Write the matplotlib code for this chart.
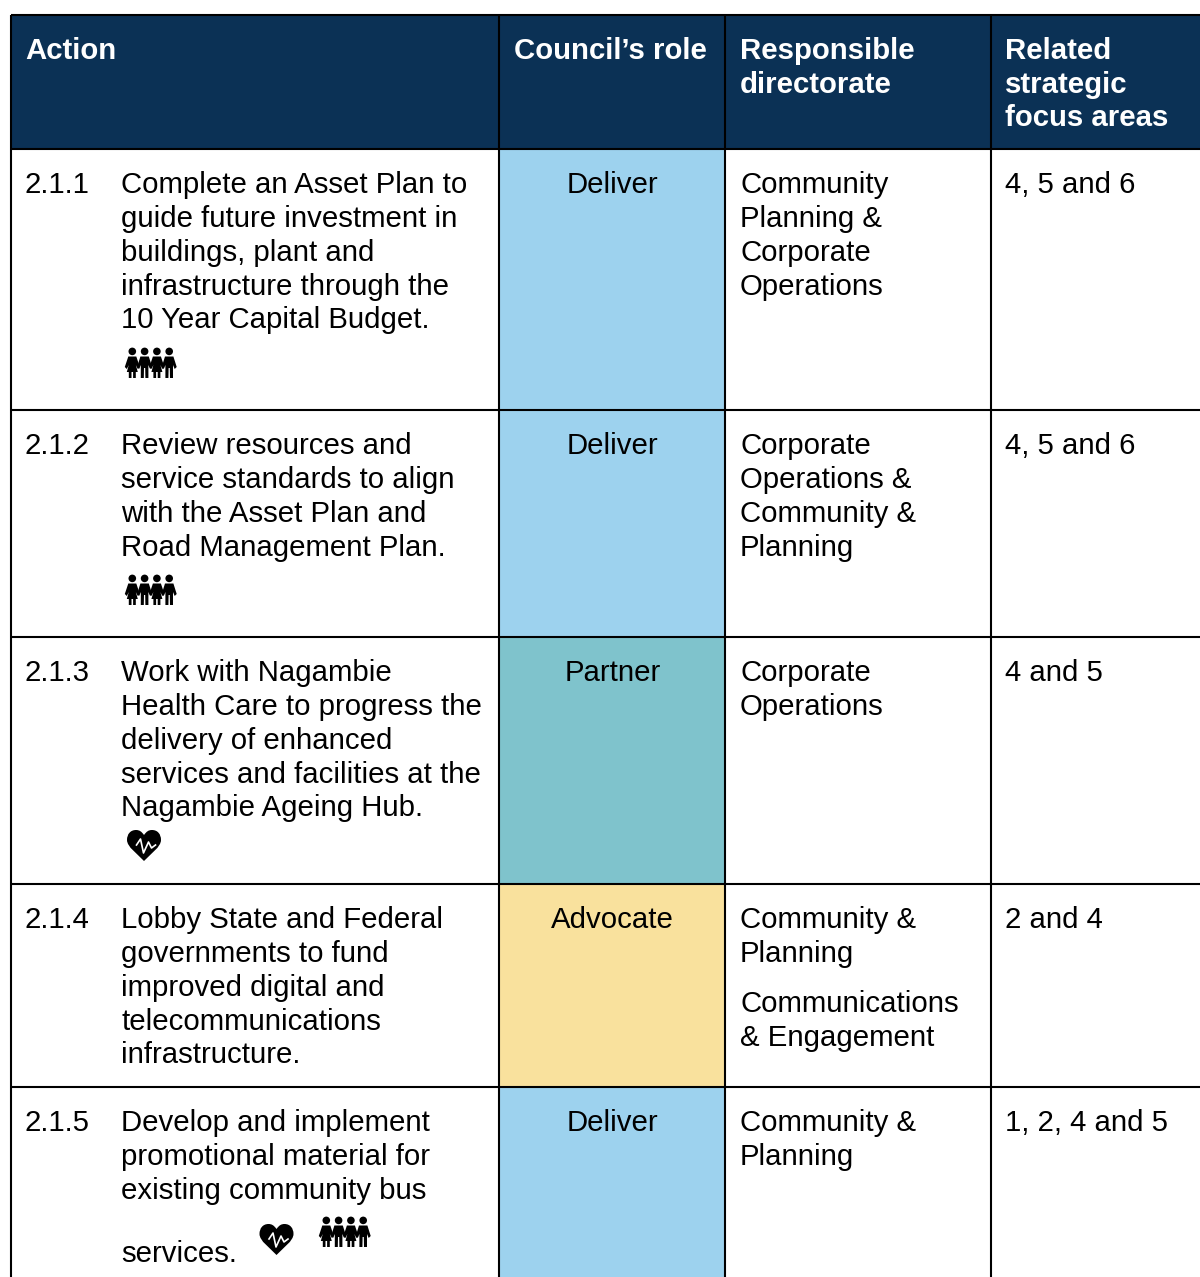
import matplotlib
matplotlib.use('Agg')
import matplotlib.pyplot as plt
from matplotlib.patches import Rectangle, Circle, Polygon, PathPatch
from matplotlib.path import Path

plt.rcParams['font.family'] = ['Liberation Sans', 'DejaVu Sans']

headers = ["Action", "Council\u2019s role", "Responsible\ndirectorate", "Related\nstrategic\nfocus areas"]
numbers = ["2.1.1", "2.1.2", "2.1.3", "2.1.4", "2.1.5"]
actions = [
    ["Complete an Asset Plan to", "guide future investment in", "buildings, plant and", "infrastructure through the", "10 Year Capital Budget."],
    ["Review resources and", "service standards to align", "with the Asset Plan and", "Road Management Plan."],
    ["Work with Nagambie", "Health Care to progress the", "delivery of enhanced", "services and facilities at the", "Nagambie Ageing Hub."],
    ["Lobby State and Federal", "governments to fund", "improved digital and", "telecommunications", "infrastructure."],
    ["Develop and implement", "promotional material for", "existing community bus"],
]
roles = ["Deliver", "Deliver", "Partner", "Advocate", "Deliver"]
directorates = [
    ["Community", "Planning &", "Corporate", "Operations"],
    ["Corporate", "Operations &", "Community &", "Planning"],
    ["Corporate", "Operations"],
    ["Community &", "Planning"],
    ["Community &", "Planning"],
]
focus = ["4, 5 and 6", "4, 5 and 6", "4 and 5", "2 and 4", "1, 2, 4 and 5"]
role_colors = {"Deliver": "#9dd2ee", "Partner": "#7fc3cc", "Advocate": "#f9e19d"}

col_x = [11, 499, 725, 991, 1201]
row_y = [15, 149, 410, 637, 884, 1087, 1278]
navy = "#0b3155"
line_h = 33.75
fs = 21.2

fig = plt.figure(figsize=(12, 12.77), dpi=100)
ax = fig.add_axes([0, 0, 1, 1])
ax.set_xlim(0, 1200)
ax.set_ylim(1277, 0)
ax.axis('off')


def people(x, y):
    # four figures holding hands, x,y = top left of the group
    for i in range(4):
        cx = x + 7.3 + i * 12.3
        ax.add_patch(Circle((cx, y + 3.4), 3.8, color='black', lw=0))
        if i % 2 == 0:
            body = [(cx - 4, y + 8.5), (cx + 4, y + 8.5), (cx + 7.5, y + 19), (cx + 5.5, y + 21), (cx + 3.5, y + 17),
                    (cx + 5.5, y + 24), (cx + 3.5, y + 24), (cx + 3.5, y + 30), (cx + 0.8, y + 30), (cx + 0.8, y + 24),
                    (cx - 0.8, y + 24), (cx - 0.8, y + 30), (cx - 3.5, y + 30), (cx - 3.5, y + 24), (cx - 5.5, y + 24),
                    (cx - 3.5, y + 17), (cx - 5.5, y + 21), (cx - 7.5, y + 19)]
        else:
            body = [(cx - 4.2, y + 8.5), (cx + 4.2, y + 8.5), (cx + 7.5, y + 19), (cx + 5.5, y + 21), (cx + 3.8, y + 17),
                    (cx + 3.8, y + 30), (cx + 0.8, y + 30), (cx + 0.6, y + 20), (cx - 0.6, y + 20), (cx - 0.8, y + 30),
                    (cx - 3.8, y + 30), (cx - 3.8, y + 17), (cx - 5.5, y + 21), (cx - 7.5, y + 19)]
        ax.add_patch(Polygon(body, closed=True, color='black', lw=0))


def heart(x, y):
    # heart with white pulse line, x,y = top left, about 33 wide, 31 tall
    verts = [(x + 16.5, y + 5),
             (x + 14, y + 1.5), (x + 12, y), (x + 8.5, y),
             (x + 3, y), (x - 0.5, y + 4), (x - 0.5, y + 10),
             (x - 0.5, y + 17), (x + 10, y + 24), (x + 16.5, y + 31),
             (x + 23, y + 24), (x + 33.5, y + 17), (x + 33.5, y + 10),
             (x + 33.5, y + 4), (x + 30, y), (x + 24.5, y),
             (x + 21, y), (x + 19, y + 1.5), (x + 16.5, y + 5)]
    codes = [Path.MOVETO] + [Path.CURVE4] * 18
    ax.add_patch(PathPatch(Path(verts, codes), color='black', lw=0))
    pulse = [(x + 9, y + 15), (x + 13, y + 9), (x + 16, y + 23),
             (x + 21, y + 12), (x + 24, y + 18), (x + 28, y + 15)]
    ax.plot(*zip(*pulse), color='white', lw=1.2, solid_joinstyle='round')


# header band
ax.add_patch(Rectangle((col_x[0], row_y[0]), col_x[-1] - col_x[0], row_y[1] - row_y[0], color=navy, lw=0))

# role column fills
for i, role in enumerate(roles):
    ax.add_patch(Rectangle((col_x[1], row_y[i + 1]), col_x[2] - col_x[1], row_y[i + 2] - row_y[i + 1],
                           color=role_colors[role], lw=0))

# grid lines
for x in col_x[:-1]:
    ax.plot([x, x], [row_y[0], row_y[-1]], color='black', lw=1.5, solid_capstyle='butt')
for y in row_y[:-1]:
    ax.plot([col_x[0], col_x[-1]], [y, y], color='black', lw=1.5, solid_capstyle='butt')

# header text
hdr_x = [25, 514, 740, 1005]
for x, h in zip(hdr_x, headers):
    for k, part in enumerate(h.split("\n")):
        ax.text(x, 59 + k * line_h, part, color='white', fontsize=fs, fontweight='bold', va='baseline')


def lines(x, y, items):
    for k, s in enumerate(items):
        ax.text(x, y + k * line_h, s, color='black', fontsize=fs, va='baseline')


for i in range(5):
    base = row_y[i + 1] + 44.3
    ax.text(25, base, numbers[i], color='black', fontsize=fs, va='baseline')
    lines(121, base, actions[i])
    ax.text(612.5, base, roles[i], color='black', fontsize=fs, va='baseline', ha='center')
    lines(740, base, directorates[i])
    ax.text(1005, base, focus[i], color='black', fontsize=fs, va='baseline')

# extra paragraph in 2.1.4 and last line of 2.1.5
lines(740, 1012, ["Communications", "& Engagement"])
ax.text(121, 1262, "services.", color='black', fontsize=fs, va='baseline')

people(125, 348)
people(125, 575)
heart(127.5, 830)
heart(260, 1224)
people(319, 1217)

fig.savefig('out.png', dpi=100)
